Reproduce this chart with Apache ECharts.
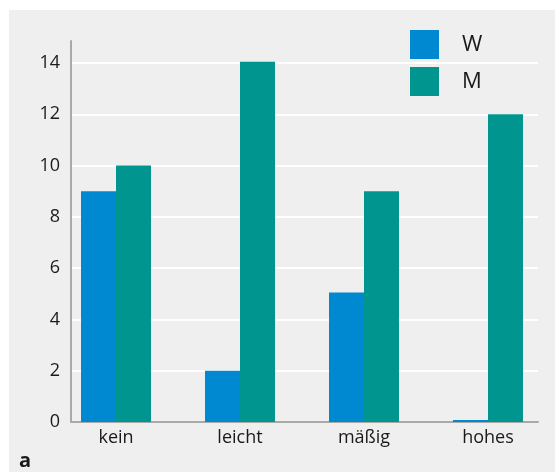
<!DOCTYPE html>
<html>
<head>
<meta charset="utf-8">
<script src="https://cdn.jsdelivr.net/npm/echarts@6/dist/echarts.min.js"></script>
<style>
html,body{margin:0;padding:0;background:#fff;}
#wrap{position:relative;width:555px;height:472px;}
#bg{position:absolute;left:9px;top:10px;right:0;bottom:0;background:#efefef;}
#chart{position:absolute;left:0;top:0;width:555px;height:472px;}
</style>
</head>
<body>
<div id="wrap"><div id="bg"></div><div id="chart"></div></div>
<script>
const categories = ['kein', 'leicht', 'mäßig', 'hohes'];
const seriesW = [9, 2, 5.05, 0.08];
const seriesM = [10, 14.05, 9, 12];
const seriesNames = ['W', 'M'];
const colors = ['#0088d1', '#00968f'];

const FONT = 'Open Sans';
const chart = echarts.init(document.getElementById('chart'), null, {renderer: 'canvas'});
const option = {
  backgroundColor: 'transparent',
  animation: false,
  textStyle: {fontFamily: FONT},
  title: {
    text: 'a', left: 19, top: 451, padding: 0,
    textStyle: {fontFamily: FONT, fontWeight: 'bold', fontSize: 20, color: '#1a1a1a'}
  },
  legend: {
    data: seriesNames,
    orient: 'vertical',
    left: 410, top: 30, padding: 0,
    icon: 'rect',
    itemWidth: 29, itemHeight: 29, itemGap: 8,
    textStyle: {fontFamily: FONT, fontSize: 22, color: '#1a1a1a', padding: [0, 0, 0, 18]}
  },
  grid: [
    {left: 71, right: 17, top: 41, bottom: 50},
    {left: 54, right: 5, top: 41, bottom: 50}
  ],
  xAxis: [
    {
      gridIndex: 0, type: 'value', min: 0, max: 1,
      axisLine: {show: true, lineStyle: {color: '#a9a9a9', width: 2}},
      axisTick: {show: false}, axisLabel: {show: false}, splitLine: {show: false}
    },
    {
      gridIndex: 1, type: 'category', data: categories,
      axisLine: {show: false}, axisTick: {show: false},
      axisLabel: {fontFamily: FONT, fontSize: 18, color: '#1a1a1a', margin: 7}
    }
  ],
  yAxis: [
    {
      gridIndex: 0, type: 'value', min: 0, max: 14.86, interval: 2,
      axisLine: {show: true, lineStyle: {color: '#a9a9a9', width: 2}},
      axisTick: {show: false},
      axisLabel: {fontFamily: FONT, fontSize: 18, color: '#1a1a1a', margin: 11, showMaxLabel: false},
      splitLine: {show: true, showMaxLine: false, showMinLine: false, lineStyle: {color: '#ffffff', width: 2}}
    },
    {
      gridIndex: 1, type: 'value', min: 0, max: 14.86,
      axisLine: {show: false}, axisTick: {show: false}, axisLabel: {show: false}, splitLine: {show: false}
    }
  ],
  series: [
    {name: seriesNames[0], type: 'bar', xAxisIndex: 1, yAxisIndex: 1, data: seriesW,
     barWidth: 35, barGap: '0%', itemStyle: {color: colors[0]}},
    {name: seriesNames[1], type: 'bar', xAxisIndex: 1, yAxisIndex: 1, data: seriesM,
     barWidth: 35, barGap: '0%', itemStyle: {color: colors[1]}}
  ]
};
chart.setOption(option);
</script>
</body>
</html>
